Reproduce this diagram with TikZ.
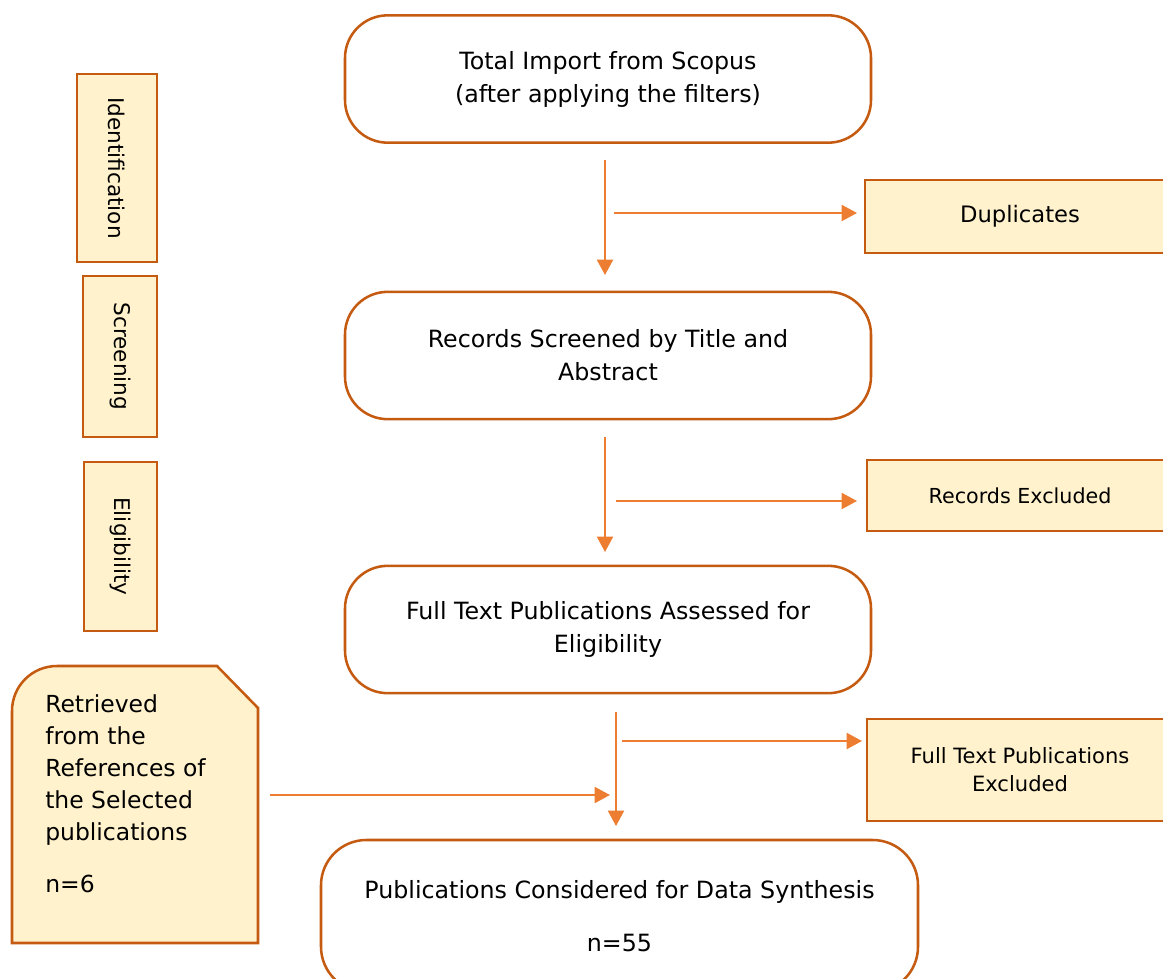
\documentclass[tikz,border=0pt]{standalone}
\usepackage{fontspec}
\setmainfont{DejaVu Sans}
\usetikzlibrary{arrows.meta}
\definecolor{bord}{HTML}{C55A11}
\definecolor{fillY}{HTML}{FFF2CC}
\definecolor{arr}{HTML}{ED7D31}
\begin{document}
\begin{tikzpicture}[x=0.75pt,y=-0.75pt,
  mainbox/.style={draw=bord, line width=1.9pt, fill=white, rounded corners=32pt, align=center,
    font=\fontsize{17.8pt}{24.75pt}\selectfont, minimum width=394.5pt, minimum height=95.5pt, inner sep=0pt},
  sidebox/.style={draw=bord, line width=1.9pt, fill=fillY, align=center, inner sep=0pt},
  phase/.style={sidebox, rotate=-90, font=\fontsize{16.2pt}{18pt}\selectfont},
  flow/.style={draw=arr, line width=1.5pt, -{Triangle[length=11.5pt,width=12pt]}}]
\useasboundingbox (0,0) rectangle (1163,978);
\clip (0,0) rectangle (1163,978);

% phase labels
\node[phase, minimum width=141pt, minimum height=60pt] (ident) at (117,168) {Identification};
\node[phase, minimum width=120.75pt, minimum height=55.5pt] (screen) at (120,356.5) {Screening};
\node[phase, minimum width=126.75pt, minimum height=54.75pt] (elig) at (120.5,546.5) {Eligibility};

% main boxes
\node[mainbox] (b1) at (608,79) {Total Import from Scopus\\(after applying the filters)};
\node[mainbox] (b2) at (608,355.5) {Records Screened by Title and\\Abstract};
\node[mainbox] (b3) at (608,629.5) {Full Text Publications Assessed for\\Eligibility};
\node[mainbox, rounded corners=34pt, minimum width=447.75pt, minimum height=114pt] (b4) at (619.5,916)
  {Publications Considered for Data Synthesis\\[15pt]n=55};

% side boxes
\node[sidebox, minimum width=232.5pt, minimum height=54.75pt, font=\fontsize{17pt}{20pt}\selectfont] (dup) at (1020,216.5) {\raisebox{-2pt}{Duplicates}};
\node[sidebox, minimum width=229.5pt, minimum height=53.25pt, font=\fontsize{15.5pt}{20pt}\selectfont] (rex) at (1020,495.5) {Records Excluded};
\node[sidebox, minimum width=229.5pt, minimum height=76.5pt, font=\fontsize{15.8pt}{21pt}\selectfont] (ftex) at (1020,770) {Full Text Publications\\Excluded};

% retrieved box
\draw[bord, fill=fillY, line width=1.9pt] (12,943) -- (12,711) .. controls (12,686.2) and (31.8,666) .. (57,666)
  -- (217,666) -- (258,708) -- (258,943) -- cycle;
\node[anchor=north west, inner sep=0pt, align=left, font=\fontsize{17.6pt}{24pt}\selectfont] (ret) at (45,694)
  {Retrieved\\from the\\References of\\the Selected\\publications\\[15pt]n=6};

% connectors
\coordinate (v1s) at (605,160); \coordinate (v1e) at (605,275);
\coordinate (h1s) at (614,213); \coordinate (h1e) at (857,213);
\coordinate (v2s) at (605,437); \coordinate (v2e) at (605,552);
\coordinate (h2s) at (616,501); \coordinate (h2e) at (857,501);
\coordinate (v3s) at (616,712); \coordinate (v3e) at (616,826);
\coordinate (h3s) at (622,741); \coordinate (h3e) at (862,741);
\coordinate (h4s) at (270,795); \coordinate (h4e) at (610,795);
\draw[flow] (v1s) -- (v1e);
\draw[flow] (h1s) -- (h1e);
\draw[flow] (v2s) -- (v2e);
\draw[flow] (h2s) -- (h2e);
\draw[flow] (v3s) -- (v3e);
\draw[flow] (h3s) -- (h3e);
\draw[flow] (h4s) -- (h4e);
\end{tikzpicture}
\end{document}
